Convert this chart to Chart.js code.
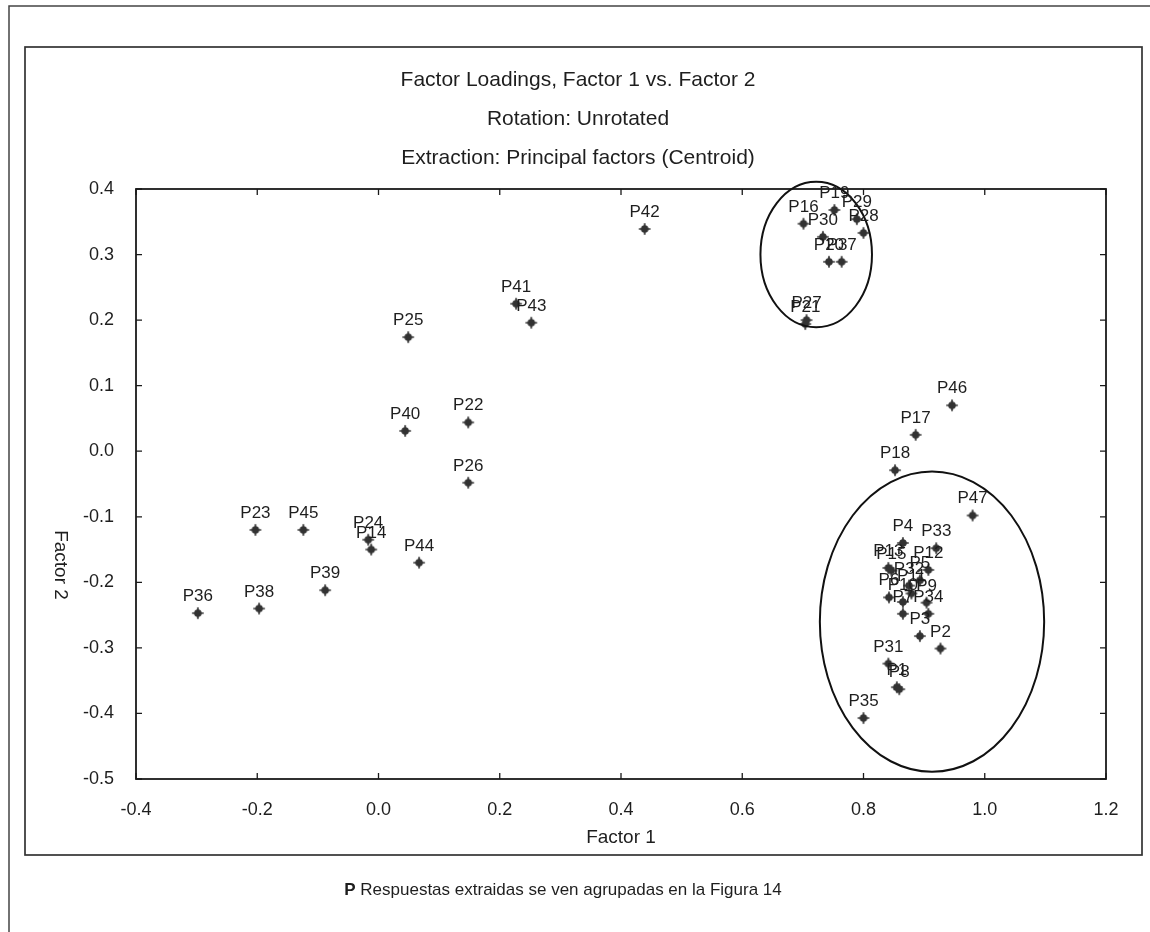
<!DOCTYPE html>
<html>
<head>
<meta charset="utf-8">
<script src="https://cdn.jsdelivr.net/npm/chart.js@4.4.1/dist/chart.umd.min.js"></script>
<style>
html,body{margin:0;padding:0;background:#fff;}
#wrap{position:relative;width:1150px;height:932px;}
canvas{display:block;}
</style>
</head>
<body>
<div id="wrap"><canvas id="c" width="1150" height="932"></canvas></div>
<script>
// ---- data ----
const pointLabels = ["P1","P2","P3","P4","P5","P6","P7","P8","P9","P10","P11","P12","P13","P14","P15","P16","P17","P18","P19","P20","P21","P22","P23","P24","P25","P26","P27","P28","P29","P30","P31","P32","P33","P34","P35","P36","P37","P38","P39","P40","P41","P42","P43","P44","P45","P46","P47"];
const factor1 = [0.855,0.927,0.893,0.865,0.893,0.842,0.865,0.859,0.904,0.865,0.879,0.907,0.841,-0.012,0.846,0.701,0.886,0.852,0.752,0.743,0.704,0.148,-0.203,-0.017,0.049,0.148,0.706,0.800,0.789,0.733,0.841,0.875,0.920,0.907,0.800,-0.298,0.764,-0.197,-0.088,0.044,0.227,0.439,0.252,0.067,-0.124,0.946,0.980];
const factor2 = [-0.360,-0.301,-0.282,-0.140,-0.197,-0.223,-0.248,-0.363,-0.231,-0.230,-0.217,-0.181,-0.178,-0.150,-0.182,0.347,0.025,-0.029,0.368,0.289,0.194,0.044,-0.120,-0.135,0.174,-0.048,0.200,0.333,0.354,0.327,-0.324,-0.205,-0.148,-0.248,-0.407,-0.247,0.289,-0.240,-0.212,0.031,0.225,0.339,0.196,-0.170,-0.120,0.070,-0.098];
const xTickValues = [-0.4,-0.2,0.0,0.2,0.4,0.6,0.8,1.0,1.2];
const yTickValues = [0.4,0.3,0.2,0.1,0.0,-0.1,-0.2,-0.3,-0.4,-0.5];
const titleLines = ["Factor Loadings, Factor 1 vs. Factor 2","Rotation: Unrotated","Extraction: Principal factors (Centroid)"];
const xTitle = "Factor 1";
const yTitle = "Factor 2";
const captionBold = "P";
const captionRest = " Respuestas extraidas se ven agrupadas en la Figura 14";
// group ellipses (data units): centre x, centre y, radius x, radius y
const groupEllipses = [[0.722,0.300,0.092,0.111],[0.913,-0.260,0.185,0.229]];

const FONT = "'Liberation Sans', Arial, sans-serif";
const INK = "#1e1e1e";

// marker
const mk = document.createElement('canvas');
mk.width = 14; mk.height = 14;
(function(){
  const g = mk.getContext('2d');
  g.fillStyle = '#333';
  g.strokeStyle = '#333';
  g.beginPath(); g.arc(7,7,3.8,0,Math.PI*2); g.fill();
  g.lineWidth = 1.7;
  g.beginPath(); g.moveTo(7,1.2); g.lineTo(7,12.8); g.moveTo(1.2,7); g.lineTo(12.8,7); g.stroke();
})();

const points = factor1.map((v,i)=>({x:v,y:factor2[i]}));

const decor = {
  id:'decor',
  beforeDraw(chart){
    const c = chart.ctx;
    c.save();
    c.fillStyle = '#fff';
    c.fillRect(0,0,chart.width,chart.height);
    c.strokeStyle = '#444';
    c.lineWidth = 1.5;
    // outer page frame
    c.beginPath(); c.moveTo(9,932); c.lineTo(9,6); c.lineTo(1150,6); c.stroke();
    // inner box
    c.strokeStyle = '#333';
    c.lineWidth = 1.7;
    c.strokeRect(25,47,1117,808);
    // titles
    c.fillStyle = INK;
    c.textAlign = 'center';
    c.textBaseline = 'middle';
    c.font = '21px ' + FONT;
    const tys = [80,119,158];
    titleLines.forEach((t,i)=>c.fillText(t,578,tys[i]));
    const a = chart.chartArea;
    c.font = '19px ' + FONT;
    c.fillText(xTitle,(a.left+a.right)/2,838);
    c.save();
    c.translate(60,565);
    c.rotate(Math.PI/2);
    c.fillText(yTitle,0,0);
    c.restore();
    // caption
    c.textAlign = 'left';
    c.font = 'bold 17px ' + FONT;
    const wb = c.measureText(captionBold).width;
    c.font = '17px ' + FONT;
    const wr = c.measureText(captionRest).width;
    let x0 = 563 - (wb+wr)/2;
    c.font = 'bold 17px ' + FONT;
    c.fillText(captionBold,x0,890);
    c.font = '17px ' + FONT;
    c.fillText(captionRest,x0+wb,890);
    c.restore();
  },
  afterDatasetsDraw(chart){
    const c = chart.ctx;
    const a = chart.chartArea;
    const xs = chart.scales.x, ys = chart.scales.y;
    c.save();
    // plot frame
    c.strokeStyle = '#1a1a1a';
    c.lineWidth = 1.8;
    c.strokeRect(a.left,a.top,a.right-a.left,a.bottom-a.top);
    // inward ticks
    c.lineWidth = 1.3;
    c.beginPath();
    xTickValues.forEach(v=>{
      const px = xs.getPixelForValue(v);
      c.moveTo(px,a.bottom); c.lineTo(px,a.bottom-6);
      c.moveTo(px,a.top); c.lineTo(px,a.top+6);
    });
    yTickValues.forEach(v=>{
      const py = ys.getPixelForValue(v);
      c.moveTo(a.left,py); c.lineTo(a.left+6,py);
      c.moveTo(a.right,py); c.lineTo(a.right-6,py);
    });
    c.stroke();
    // ellipses
    c.lineWidth = 2;
    c.strokeStyle = '#111';
    groupEllipses.forEach(e=>{
      const cx = xs.getPixelForValue(e[0]), cy = ys.getPixelForValue(e[1]);
      const rx = Math.abs(xs.getPixelForValue(e[0]+e[2])-cx);
      const ry = Math.abs(ys.getPixelForValue(e[1]+e[3])-cy);
      c.beginPath(); c.ellipse(cx,cy,rx,ry,0,0,Math.PI*2); c.stroke();
    });
    // point labels
    c.fillStyle = INK;
    c.font = '17px ' + FONT;
    c.textAlign = 'center';
    c.textBaseline = 'alphabetic';
    const meta = chart.getDatasetMeta(0);
    meta.data.forEach((el,i)=>{
      c.fillText(pointLabels[i], el.x, el.y - 12);
    });
    c.restore();
  }
};

const fmt = v => (Math.abs(v)<1e-9 ? 0 : v).toFixed(1);

new Chart(document.getElementById('c'),{
  type:'scatter',
  data:{datasets:[{data:points,pointStyle:mk,pointRadius:7,pointHoverRadius:7}]},
  options:{
    responsive:false,
    animation:false,
    devicePixelRatio:1,
    events:[],
    layout:{padding:{left:74,right:44,top:189,bottom:113}},
    plugins:{legend:{display:false},title:{display:false},tooltip:{enabled:false}},
    scales:{
      x:{
        type:'linear',min:-0.4,max:1.2,
        afterBuildTicks(s){ s.ticks = xTickValues.map(v=>({value:v})); },
        afterFit(s){ s.height = 40; },
        grid:{display:false},border:{display:false},
        ticks:{color:INK,font:{family:FONT,size:18},padding:12,callback:fmt,maxRotation:0,autoSkip:false}
      },
      y:{
        type:'linear',min:-0.5,max:0.4,
        afterBuildTicks(s){ s.ticks = yTickValues.map(v=>({value:v})); },
        afterFit(s){ s.width = 62; },
        grid:{display:false},border:{display:false},
        ticks:{color:INK,font:{family:FONT,size:18},padding:14,callback:fmt,autoSkip:false}
      }
    }
  },
  plugins:[decor]
});
</script>
</body>
</html>
